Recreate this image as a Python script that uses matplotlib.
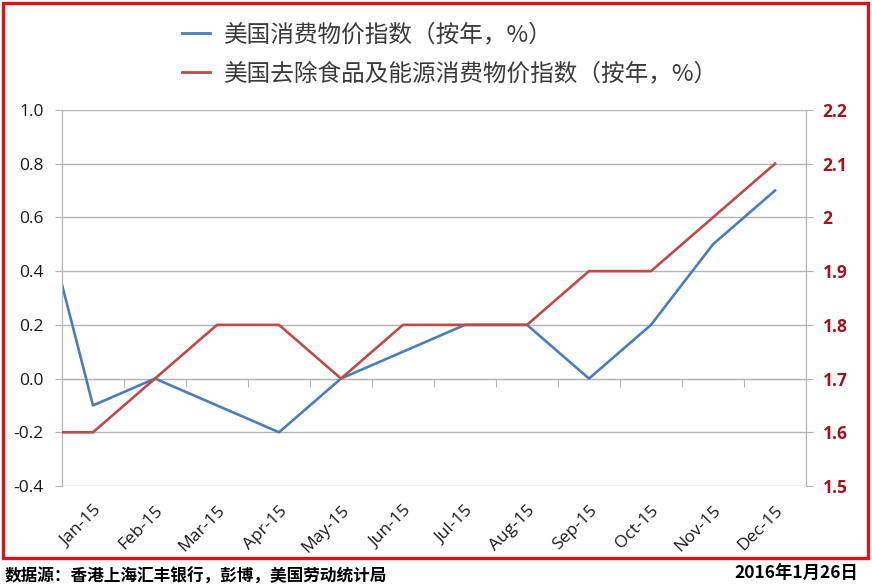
import matplotlib.pyplot as plt
from matplotlib.lines import Line2D
from matplotlib.patches import Rectangle

plt.rcParams['font.family'] = ['Noto Sans CJK SC', 'DejaVu Sans']

# Dec-14 point sits just left of the axis and gets clipped (as in the original)
months = ["Jan-15", "Feb-15", "Mar-15", "Apr-15", "May-15", "Jun-15",
          "Jul-15", "Aug-15", "Sep-15", "Oct-15", "Nov-15", "Dec-15"]
cpi = [0.8, -0.1, 0.0, -0.1, -0.2, 0.0, 0.1, 0.2, 0.2, 0.0, 0.2, 0.5, 0.7]
core = [1.6, 1.6, 1.7, 1.8, 1.8, 1.7, 1.8, 1.8, 1.8, 1.9, 1.9, 2.0, 2.1]
left_ticks = [-0.4, -0.2, 0.0, 0.2, 0.4, 0.6, 0.8, 1.0]
right_ticks = [1.5, 1.6, 1.7, 1.8, 1.9, 2.0, 2.1, 2.2]
right_labels = ["1.5", "1.6", "1.7", "1.8", "1.9", "2", "2.1", "2.2"]

blue = "#4A7EBB"
red = "#BE4B48"
grid_c = "#B3B3B3"
tick_font = ["Open Sans", "DejaVu Sans"]

fig = plt.figure(figsize=(8.72, 5.87), dpi=100)
ax = fig.add_axes([62/872, 101/587, 744/872, 376/587])
ax2 = ax.twinx()

x = list(range(-1, 12))
ax.plot(x, cpi, color=blue, lw=1.9, zorder=3)
ax2.plot(x, core, color=red, lw=1.9, zorder=3)

ax.set_xlim(-0.5, 11.5)
ax.set_ylim(-0.4, 1.0)
ax2.set_ylim(1.5, 2.2)
ax.set_yticks(left_ticks)
ax.set_yticklabels([f"{v:.1f}" for v in left_ticks], fontsize=12.5, family=tick_font, color="#1A1A1A")
ax2.set_yticks(right_ticks)
ax2.set_yticklabels(right_labels, fontsize=12.5, family=tick_font, color="#A0141E", fontweight="bold")
ax.grid(axis="y", color=grid_c, lw=1)
ax.set_axisbelow(True)

ax.set_xticks(range(12))
ax.set_xticklabels(months, rotation=45, ha="right", rotation_mode="anchor",
                   fontsize=12.5, family=tick_font, color="#1A1A1A")
ax.tick_params(axis="x", length=0, pad=12)
ax.tick_params(axis="y", length=5, color=grid_c, pad=8)
ax2.tick_params(axis="y", length=5, color=grid_c, pad=7)

for a in (ax, ax2):
    for s in ("top", "bottom"):
        a.spines[s].set_visible(False)
    a.spines["left"].set_color(grid_c)
    a.spines["right"].set_color(grid_c)

# category boundary tick marks on the zero line
zero_axis = ax.secondary_xaxis(0.4 / 1.4)
zero_axis.set_xticks([i + 0.5 for i in range(11)])
zero_axis.set_xticklabels([])
zero_axis.tick_params(length=6, color=grid_c, direction="out")
zero_axis.spines["bottom"].set_color(grid_c)

handles = [Line2D([], [], color=blue, lw=2.0), Line2D([], [], color=red, lw=2.0)]
fig.legend(handles, ["美国消费物价指数（按年，%）", "美国去除食品及能源消费物价指数（按年，%）"],
           loc="upper left", bbox_to_anchor=(173/872, 1 - 14/587), borderaxespad=0,
           frameon=False, handlelength=1.15, handletextpad=0.6,
           labelspacing=0.66, labelcolor="#3A3A3A", prop={"weight": "light", "size": 17})

fig.add_artist(Rectangle((3/872, 29/587), 865/872, 555/587, transform=fig.transFigure,
                         fill=False, edgecolor="#D7141A", lw=2.4))

fig.text(5/872, 1 - 577/587, "数据源：香港上海汇丰银行，彭博，美国劳动统计局",
         fontsize=12, fontweight="bold", va="center", ha="left")
fig.text(858/872, 1 - 574/587, "2016年1月26日",
         fontsize=12.5, fontweight="bold", va="center", ha="right")

fig.savefig("out.png", dpi=100)
